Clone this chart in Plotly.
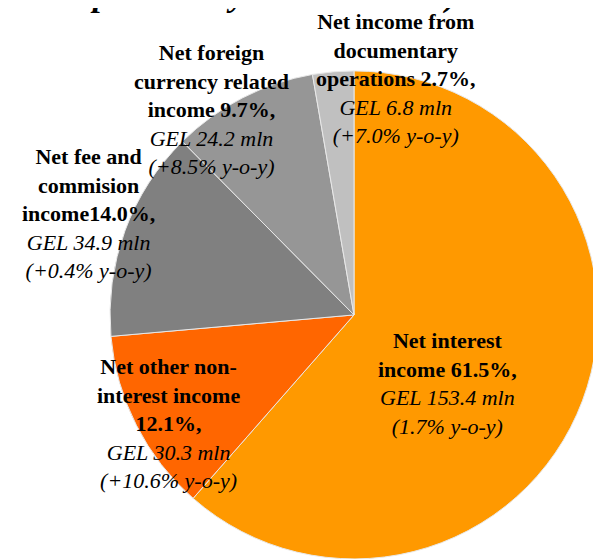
import plotly.graph_objects as go

# slices, clockwise from 12 o'clock
LABELS = [
    "Net interest income",
    "Net other non-interest income",
    "Net fee and commision income",
    "Net foreign currency related income",
    "Net income from documentary operations",
]
SHARE = [61.5, 12.1, 14.0, 9.7, 2.7]  # % of total
GEL_MLN = [153.4, 30.3, 34.9, 24.2, 6.8]
YOY = ["1.7%", "+10.6%", "+0.4%", "+8.5%", "+7.0%"]
COLORS = ["#FF9900", "#FF6600", "#808080", "#969696", "#C0C0C0"]

# how the bold part of each label is broken into lines
BOLD_LINES = [
    ["Net interest", "income {s}%,"],
    ["Net other non-", "interest income", "{s}%,"],
    ["Net fee and", "commision", "income{s}%,"],
    ["Net foreign", "currency related", "income {s}%,"],
    ["Net income from", "documentary", "operations {s}%,"],
]
# label block centres in figure pixels (x from left, y from top)
LABEL_POS = [(439, 375), (160, 415), (80, 206), (203, 102), (388, 70)]

# page body keeps an 8px margin, so the figure is 8px smaller than the window
W, H = 593, 551
FONT = "Liberation Serif, Times New Roman, serif"

fig = go.Figure()
fig.add_pie(
    labels=LABELS,
    values=GEL_MLN,
    sort=False,
    direction="clockwise",
    rotation=0,
    marker=dict(colors=COLORS, line=dict(color="#e8e8e8", width=1)),
    textinfo="none",
    hoverinfo="label+value+percent",
    showlegend=False,
    domain=dict(x=[0.172, 0.995], y=[0.0, 0.886]),
)

for i in range(len(LABELS)):
    lines = ["<b>" + ln.format(s=f"{SHARE[i]:.1f}") + "</b>" for ln in BOLD_LINES[i]]
    lines.append(f"<i>GEL {GEL_MLN[i]:.1f} mln</i>")
    lines.append(f"<i>({YOY[i]} y-o-y)</i>")
    px_x, px_y = LABEL_POS[i]
    fig.add_annotation(
        text="<br>".join(lines),
        x=px_x / W,
        y=1 - px_y / H,
        xref="paper",
        yref="paper",
        xanchor="center",
        yanchor="middle",
        align="center",
        showarrow=False,
        font=dict(family=FONT, size=22, color="black"),
    )

# chart title, almost entirely above the visible area in the reference
fig.add_annotation(
    text="<b><i>Net Operating Income Structure (Q1 2014,<br>Composition by Income Items)</i></b>",
    x=16 / W,
    y=1 - 8 / H,
    xref="paper",
    yref="paper",
    xanchor="left",
    yanchor="bottom",
    align="left",
    showarrow=False,
    font=dict(family=FONT, size=34, color="black"),
)

fig.update_layout(
    width=W,
    height=H,
    margin=dict(l=0, r=0, t=0, b=0),
    paper_bgcolor="white",
    plot_bgcolor="white",
)

fig.write_html("out.html")
